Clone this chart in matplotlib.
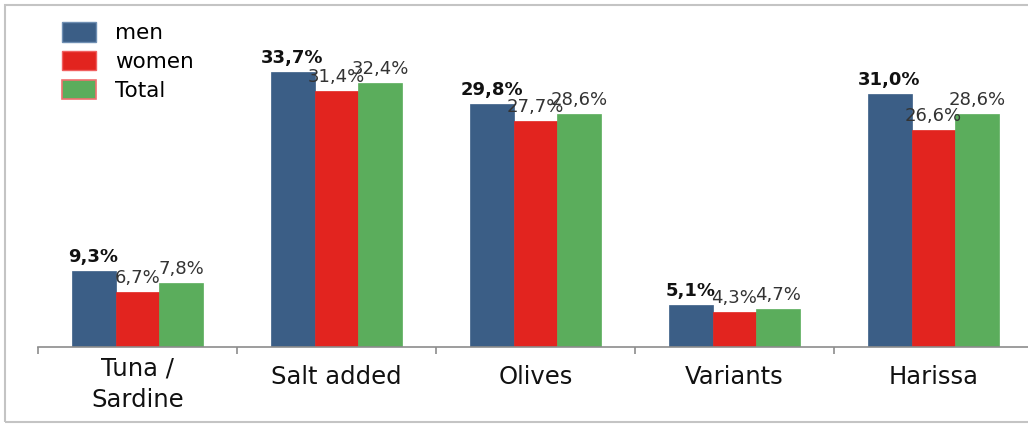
import matplotlib

matplotlib.use("Agg")

import matplotlib.pyplot as plt  # noqa: E402
from matplotlib.patches import Patch, Rectangle  # noqa: E402

# Share of consumers by product, per group (%)
categorias = ["Tuna /\nSardine", "Salt added", "Olives", "Variants", "Harissa"]
hombres = [9.3, 33.7, 29.8, 5.1, 31.0]
mujeres = [6.7, 31.4, 27.7, 4.3, 26.6]
total = [7.8, 32.4, 28.6, 4.7, 28.6]
series = ["men", "women", "Total"]

AZUL = "#3B5E86"
ROJO = "#E2241F"
VERDE = "#5BAD5C"

plt.rcParams["font.family"] = ["DejaVu Sans"]

W, H = 1028, 424
fig = plt.figure(figsize=(W / 100, H / 100), dpi=100)

# marco gris alrededor de la figura (abierto por la derecha)
fig.patches.append(Rectangle((5 / W, 2 / H), 1.1, (H - 7) / H, transform=fig.transFigure,
                             fill=False, edgecolor="#c4c4c4", linewidth=1.5))

ax = fig.add_axes([38 / W, 77 / H, 995 / W, 337 / H])
ax.set_xlim(-0.5, 4.5)
ax.set_ylim(0, 41.35)

ancho = 0.221
xs = list(range(len(categorias)))
datos = [(hombres, AZUL, -ancho), (mujeres, ROJO, 0.0), (total, VERDE, ancho)]

for valores, color, dx in datos:
    ax.bar([x + dx for x in xs], valores, width=ancho, color=color,
           edgecolor=color, linewidth=0.5)
    negrita = valores is hombres
    for x, v in zip(xs, valores):
        ax.annotate(f"{v:.1f}%".replace(".", ","), (x + dx, v),
                    xytext=(0, 6.5), textcoords="offset points",
                    ha="center", va="baseline", fontsize=13,
                    fontweight="bold" if negrita else "normal",
                    color="#111111" if negrita else "#333333")

for lado in ("left", "top", "right"):
    ax.spines[lado].set_visible(False)
ax.spines["bottom"].set_color("#8c8c8c")
ax.spines["bottom"].set_linewidth(1.2)

ax.set_yticks([])
# marcas en los límites entre grupos
ax.set_xticks([x - 0.5 for x in range(len(categorias) + 1)])
ax.set_xticklabels([])
ax.tick_params(axis="x", which="major", length=5, width=1.2, color="#8c8c8c")

# nombres de categoría (la línea base usada es la de la última línea)
for x, nombre in zip(xs, categorias):
    desplazamiento = -43 if "\n" in nombre else -27
    ax.annotate(nombre, (x, 0), xytext=(0, desplazamiento),
                textcoords="offset points", ha="center", va="baseline",
                fontsize=17.5, color="#111111", linespacing=1.38,
                annotation_clip=False)

manejadores = [
    Patch(facecolor=AZUL, edgecolor="#6f8fb3", label=series[0]),
    Patch(facecolor=ROJO, edgecolor="#f06060", label=series[1]),
    Patch(facecolor=VERDE, edgecolor="#f07070", linewidth=1.2, label=series[2]),
]
fig.legend(handles=manejadores, loc="upper left",
           bbox_to_anchor=(62 / W, 1 - 22 / H), frameon=False, fontsize=15.5,
           borderpad=0, borderaxespad=0, handlelength=1.58, handleheight=1.02,
           handletextpad=0.88, labelspacing=0.36)

fig.savefig("out.png", dpi=100)
plt.close(fig)
